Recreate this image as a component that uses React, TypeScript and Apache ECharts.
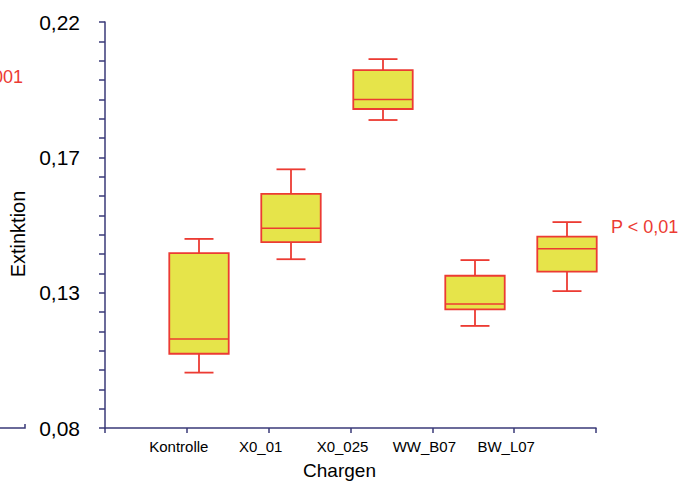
import React, { useEffect, useRef } from "react";
import * as echarts from "echarts";

const categories = ["Kontrolle", "X0_01", "X0_025", "WW_B07", "BW_L07"];
const whiskerLow = [0.0991, 0.1382, 0.1862, 0.1152, 0.1272];
const quartile1 = [0.1056, 0.1441, 0.19, 0.1209, 0.1339];
const medians = [0.1107, 0.1489, 0.1933, 0.1228, 0.1418];
const quartile3 = [0.1403, 0.1607, 0.2034, 0.1325, 0.146];
const whiskerHigh = [0.1452, 0.1692, 0.2072, 0.1379, 0.151];
const yTickLabels = ["0,08", "0,13", "0,17", "0,22"];
const yMin = 0.08;
const yMax = 0.22;
const annotationMain = "P < 0,01";
const annotationCut = "P < 0,001";

const NAVY = "#3a3a78";
const RED = "#ec3b33";
const YELLOW = "#e6e44a";
const FONT = "'Liberation Sans', Arial, sans-serif";

export default function App() {
  const ref = useRef<HTMLDivElement>(null);
  useEffect(() => {
    if (!ref.current) return;
    const chart = echarts.init(ref.current, undefined, { renderer: "svg" });
    const data = categories.map((_, i) => [
      i,
      whiskerLow[i],
      quartile1[i],
      medians[i],
      quartile3[i],
      whiskerHigh[i],
    ]);
    const option: any = {
      animation: false,
      backgroundColor: "#ffffff",
      textStyle: { fontFamily: FONT },
      grid: [
        { left: 105, right: 94, top: 22, bottom: 55, outerBoundsMode: "none" },
        { left: 153, right: 77, top: 22, bottom: 55, outerBoundsMode: "none" },
      ],
      xAxis: [
        {
          type: "category",
          gridIndex: 0,
          data: ["", ...categories, ""],
          boundaryGap: false,
          axisLine: { lineStyle: { color: NAVY, width: 1.5 } },
          axisTick: { show: true, length: 5, lineStyle: { color: NAVY, width: 1.5 } },
          axisLabel: {
            color: "#000",
            fontSize: 15,
            fontFamily: FONT,
            margin: 11,
            padding: [0, 16, 0, 0],
            interval: 0,
          },
          splitLine: { show: false },
          name: "Chargen",
          nameLocation: "middle",
          nameGap: 33,
          nameTextStyle: {
            color: "#000",
            fontSize: 19,
            fontFamily: FONT,
            padding: [0, 22, 0, 0],
          },
        },
        {
          type: "category",
          gridIndex: 1,
          data: categories,
          boundaryGap: true,
          show: false,
        },
      ],
      yAxis: [
        {
          type: "value",
          gridIndex: 0,
          min: 0,
          max: 21,
          interval: 7,
          axisLine: { show: true, lineStyle: { color: NAVY, width: 1.5 } },
          axisTick: { show: true, length: 6, lineStyle: { color: NAVY, width: 1.5 } },
          minorTick: { show: true, splitNumber: 7, length: 6, lineStyle: { color: NAVY, width: 1.5 } },
          splitLine: { show: false },
          axisLabel: {
            color: "#000",
            fontSize: 21,
            fontFamily: FONT,
            margin: 25,
            formatter: (v: number) => yTickLabels[Math.round(v / 7)] ?? "",
          },
          name: "Extinktion",
          nameLocation: "middle",
          nameGap: 75,
          nameRotate: 90,
          nameTextStyle: {
            color: "#000",
            fontSize: 20,
            fontFamily: FONT,
            padding: [0, 18, 0, 0],
          },
        },
        {
          type: "value",
          gridIndex: 1,
          min: yMin,
          max: yMax,
          show: false,
          splitLine: { show: false },
        },
      ],
      series: [
        {
          type: "custom",
          xAxisIndex: 1,
          yAxisIndex: 1,
          data,
          encode: { x: 0, y: [1, 2, 3, 4, 5] },
          renderItem: (params: any, api: any) => {
            const idx = api.value(0);
            const lo = api.coord([idx, api.value(1)]);
            const q1 = api.coord([idx, api.value(2)]);
            const med = api.coord([idx, api.value(3)]);
            const q3 = api.coord([idx, api.value(4)]);
            const hi = api.coord([idx, api.value(5)]);
            const band = api.size([1, 0])[0];
            const bw = band * 0.646;
            const cw = band * 0.315;
            const cx = lo[0];
            const lineStyle = { stroke: RED, lineWidth: 1.8 };
            return {
              type: "group",
              children: [
                { type: "line", shape: { x1: cx, y1: hi[1], x2: cx, y2: q3[1] }, style: lineStyle },
                { type: "line", shape: { x1: cx, y1: q1[1], x2: cx, y2: lo[1] }, style: lineStyle },
                { type: "line", shape: { x1: cx - cw / 2, y1: hi[1], x2: cx + cw / 2, y2: hi[1] }, style: lineStyle },
                { type: "line", shape: { x1: cx - cw / 2, y1: lo[1], x2: cx + cw / 2, y2: lo[1] }, style: lineStyle },
                {
                  type: "rect",
                  shape: { x: cx - bw / 2, y: q3[1], width: bw, height: q1[1] - q3[1] },
                  style: { fill: YELLOW, stroke: RED, lineWidth: 1.8 },
                },
                {
                  type: "line",
                  shape: { x1: cx - bw / 2, y1: med[1], x2: cx + bw / 2, y2: med[1] },
                  style: { stroke: RED, lineWidth: 1.5 },
                },
              ],
            };
          },
        },
      ],
      graphic: [
        {
          type: "text",
          left: 611,
          top: 218,
          style: { text: annotationMain, fill: RED, fontSize: 18, fontFamily: FONT },
        },
        {
          type: "text",
          x: 23,
          y: 77,
          style: {
            text: annotationCut,
            fill: RED,
            fontSize: 18,
            fontFamily: FONT,
            align: "right",
            verticalAlign: "middle",
          },
        },
        {
          type: "polyline",
          shape: { points: [[0, 428], [25, 428], [25, 424]] },
          style: { stroke: NAVY, lineWidth: 1.5, fill: null },
        },
      ],
    };
    chart.setOption(option);
    return () => chart.dispose();
  }, []);
  return (
    <div
      ref={ref}
      style={{ position: "fixed", left: 0, top: 0, width: 690, height: 483, background: "#fff" }}
    />
  );
}
